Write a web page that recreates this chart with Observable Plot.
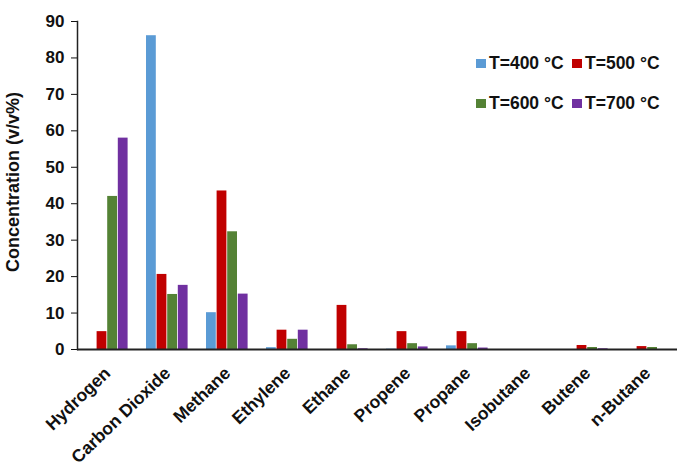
<!DOCTYPE html>
<html>
<head>
<meta charset="utf-8">
<script src="https://cdn.jsdelivr.net/npm/d3@7"></script>
<script src="https://cdn.jsdelivr.net/npm/@observablehq/plot@0.6"></script>
<style>
  html, body { margin: 0; padding: 0; background: #fff; }
  #wrap { position: relative; width: 677px; height: 466px; font-family: "Liberation Sans", Arial, sans-serif; }
  #legend { position: absolute; left: 476px; top: 52px; display: grid; grid-template-columns: 96px 100px; row-gap: 18px;
            font: bold 17.5px "Liberation Sans", Arial, sans-serif; color: #111; }
  .item { display: flex; align-items: center; white-space: nowrap; height: 22px; }
  .sw { width: 10px; height: 9px; margin-right: 3px; display: inline-block; }
</style>
</head>
<body>
<div id="wrap"></div>
<script>
const categories = ["Hydrogen", "Carbon Dioxide", "Methane", "Ethylene", "Ethane", "Propene", "Propane", "Isobutane", "Butene", "n-Butane"];
const series = ["T=400 °C", "T=500 °C", "T=600 °C", "T=700 °C"];
const t400 = [0, 86.1, 10.1, 0.5, 0, 0.1, 1.0, 0, 0, 0];
const t500 = [4.9, 20.6, 43.5, 5.3, 12.1, 4.9, 4.9, 0, 1.1, 0.8];
const t600 = [42.0, 15.1, 32.3, 2.8, 1.3, 1.6, 1.6, 0, 0.55, 0.55];
const t700 = [58.0, 17.6, 15.2, 5.3, 0.2, 0.7, 0.4, 0, 0.2, 0];
const yTicks = [0, 10, 20, 30, 40, 50, 60, 70, 80, 90];
const colors = ["#5B9BD5", "#C00000", "#548235", "#7030A0"];

const seriesValues = [t400, t500, t600, t700];
const data = categories.flatMap((c, i) => series.map((s, j) => ({category: c, series: s, value: seriesValues[j][i]})));

// bar placement inside each 60px category band
const slot = 10.6, barW = 9.8, lead = 9, band = 60;

const plot = Plot.plot({
  width: 677,
  height: 466,
  marginLeft: 77,
  marginRight: 0,
  marginTop: 21,
  marginBottom: 117,
  style: {fontFamily: "'Liberation Sans', Arial, sans-serif", fontSize: "17px", fontWeight: "bold", color: "#111", background: "#fff"},
  x: {domain: categories, padding: 0, label: null, tickSize: 0, tickPadding: 21, tickRotate: -44},
  y: {domain: [0, 90], ticks: yTicks, label: null, tickSize: 6, tickPadding: 7},
  color: {domain: series, range: colors},
  marks: [
    ...series.map((s, j) => Plot.barY(data, {
      filter: d => d.series === s,
      x: "category", y: "value", fill: "series",
      insetLeft: lead + slot * j,
      insetRight: band - (lead + slot * j + barW)
    })),
    Plot.frame({anchor: "left", stroke: "#222", strokeWidth: 1.5}),
    Plot.ruleY([0], {stroke: "#222", strokeWidth: 2.2})
  ]
});

const wrap = document.getElementById("wrap");
wrap.appendChild(plot);
d3.select(plot).selectAll("[aria-label='x-axis tick label'] text").attr("font-size", 17.5);
const legend = document.createElement("div");
legend.id = "legend";
series.forEach((s, j) => {
  const it = document.createElement("div");
  it.className = "item";
  const sw = document.createElement("span");
  sw.className = "sw";
  sw.style.background = plot.scale("color").apply(s);
  it.appendChild(sw);
  it.appendChild(document.createTextNode(s));
  legend.appendChild(it);
});
wrap.appendChild(legend);

const svg = d3.select(plot);
svg.append("text")
  .attr("transform", "translate(19,182) rotate(-90)")
  .attr("text-anchor", "middle")
  .attr("font-size", 18).attr("font-weight", "bold").attr("fill", "#111")
  .text("Concentration (v/v%)");
</script>
</body>
</html>
